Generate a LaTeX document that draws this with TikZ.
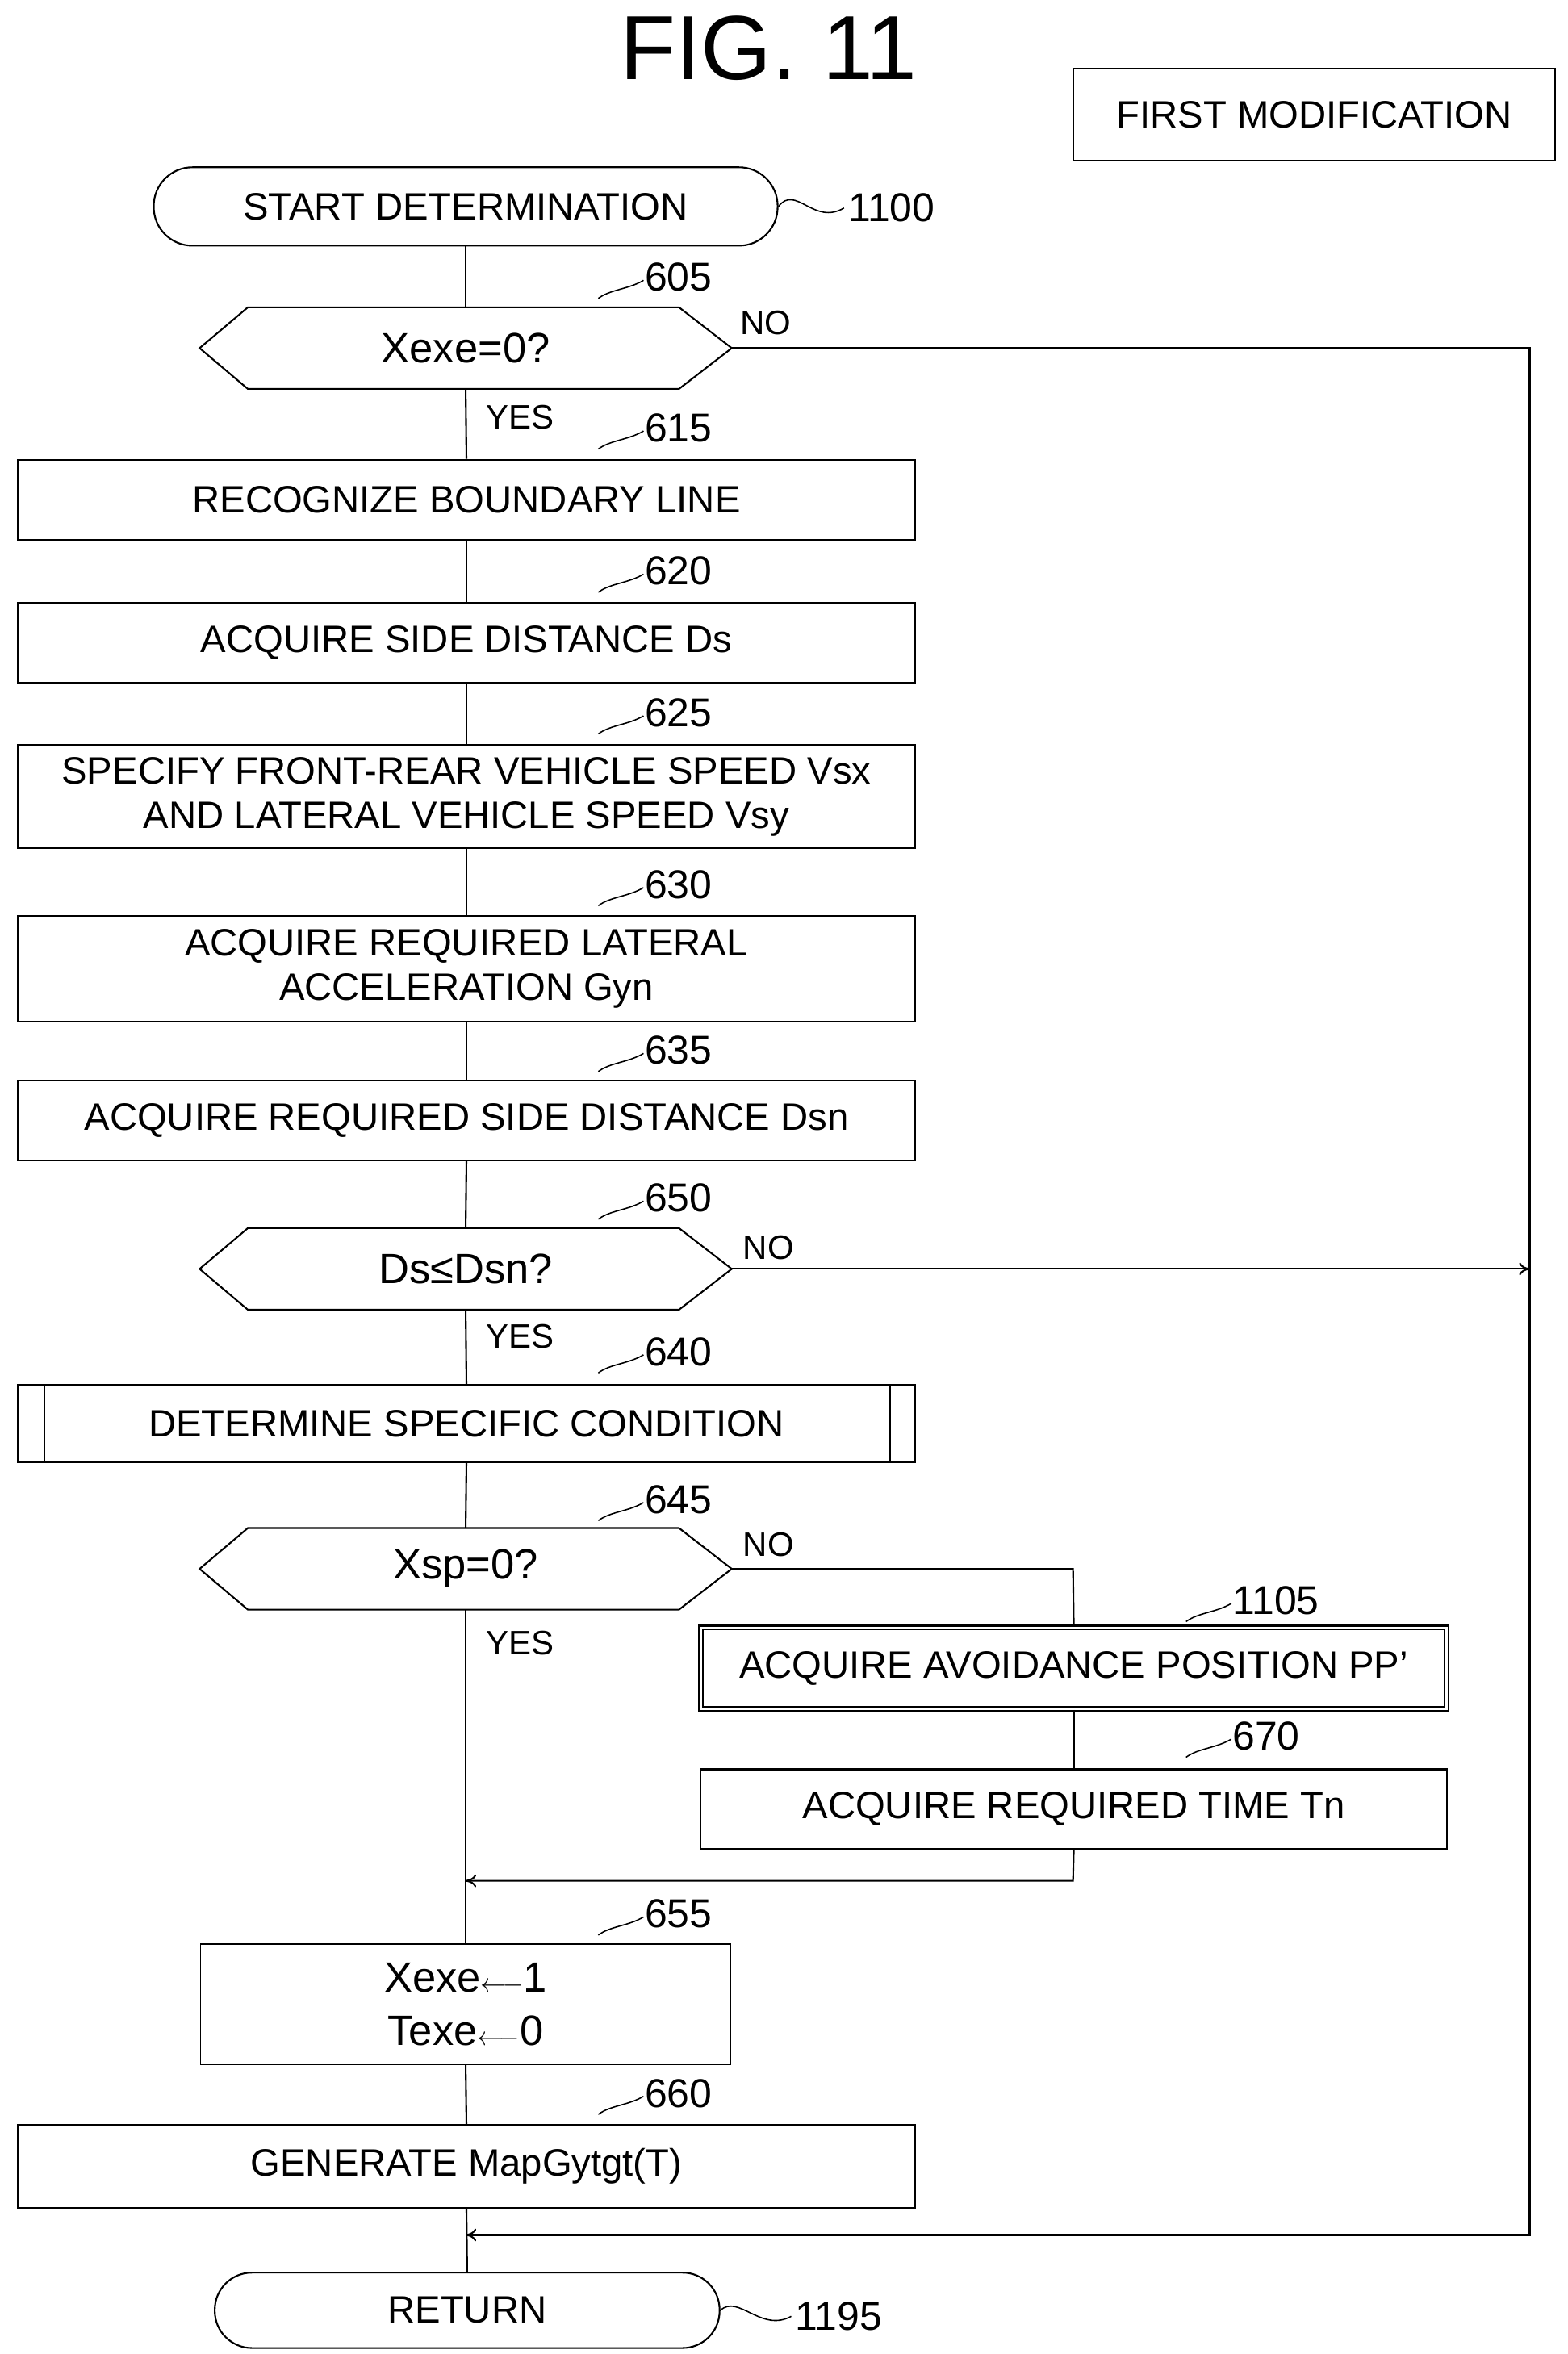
\documentclass[tikz,border=0pt]{standalone}
\usepackage{fontspec}
\setmainfont{Liberation Sans}
\usetikzlibrary{calc,arrows.meta}
\begin{document}
\begin{tikzpicture}[x=0.05cm,y=-0.05cm,line width=1.6pt,
  txt/.style={font=\fontsize{36}{42}\selectfont},
  box/.style={draw,txt,minimum width=29.75cm,minimum height=2.65cm,align=center,inner sep=0},
  term/.style={draw,txt,rounded corners=1.28cm,minimum height=2.6cm,inner sep=0},
  hex/.style={minimum width=17.6cm,minimum height=2.65cm,inner sep=0,font=\fontsize{40}{46}\selectfont},
  num/.style={font=\fontsize{38}{42}\selectfont},
  lab/.style={font=\fontsize{32}{38}\selectfont},
  arr/.style={-{To[length=10pt,width=12pt]}}]
\useasboundingbox (0,0) rectangle (1040,1562);
\newcommand{\hexa}[1]{\draw ($(#1.west)$) -- ($(#1.north west)+(1.6cm,0)$) -- ($(#1.north east)+(-1.75cm,0)$) -- (#1.east) -- ($(#1.south east)+(-1.75cm,0)$) -- ($(#1.south west)+(1.6cm,0)$) -- cycle;}
\newcommand{\tag}[3]{\node[num,anchor=west] (#1) at (#2) {#3};
  \draw[line width=1.2pt] ($(#1.west)+(-28,14)$) .. controls +(8,-6) and +(-10,6) .. ($(#1.west)+(2,2)$);}

\node[font=\fontsize{86}{96}\selectfont] (title) at (510,32) {FIG. 11};
\node[draw,txt,minimum width=16cm,minimum height=3.05cm,inner sep=0] (fm) at (872,76) {FIRST MODIFICATION};

\node[term,minimum width=20.7cm] (start) at (309,137) {START DETERMINATION};
\node[num,anchor=west] (n1100) at (560,138) {1100};
\draw[line width=1.2pt] (start.east) .. controls (528,122) and (540,150) .. (n1100.west);

\node[hex] (d605) at (309,231) {Xexe=0?}; \hexa{d605}
\tag{t605}{425,184}{605}
\node[box] (b615) at (309.5,331.5) {RECOGNIZE BOUNDARY LINE};
\tag{t615}{425,284}{615}
\node[box] (b620) at (309.5,426.5) {ACQUIRE SIDE DISTANCE Ds};
\tag{t620}{425,379}{620}
\node[box,minimum height=3.45cm] (b625) at (309.5,528.5) {SPECIFY FRONT-REAR VEHICLE SPEED Vsx\\AND LATERAL VEHICLE SPEED Vsy};
\tag{t625}{425,473}{625}
\node[box,minimum height=3.5cm] (b630) at (309.5,643) {ACQUIRE REQUIRED LATERAL\\ACCELERATION Gyn};
\tag{t630}{425,587}{630}
\node[box] (b635) at (309.5,743.5) {ACQUIRE REQUIRED SIDE DISTANCE Dsn};
\tag{t635}{425,697}{635}
\node[hex] (d650) at (309,842) {Ds≤Dsn?}; \hexa{d650}
\tag{t650}{425,795}{650}
\node[box,minimum height=2.55cm] (b640) at (309.5,944.5) {DETERMINE SPECIFIC CONDITION};
\draw ($(b640.north west)+(18,0)$) -- ($(b640.south west)+(18,0)$);
\draw ($(b640.north east)+(-17,0)$) -- ($(b640.south east)+(-17,0)$);
\tag{t640}{425,897}{640}
\node[hex] (d645) at (309,1041) {Xsp=0?}; \hexa{d645}
\tag{t645}{425,995}{645}
\node[box,minimum width=24.75cm,minimum height=2.7cm,double,double distance=2pt] (b1105) at (712.5,1107) {ACQUIRE AVOIDANCE POSITION PP'};
\tag{t1105}{815,1062}{1105}
\node[box,minimum width=24.75cm] (b670) at (712.5,1200.5) {ACQUIRE REQUIRED TIME Tn};
\tag{t670}{815,1152}{670}
\node[draw,font=\fontsize{40}{50}\selectfont,minimum width=17.6cm,minimum height=4cm,align=center,line width=1.1pt] (b655) at (309,1330) {Xexe$\longleftarrow$1\\Texe$\longleftarrow$0};
\tag{t655}{425,1270}{655}
\node[box,minimum height=2.75cm] (b660) at (309.5,1437.5) {GENERATE MapGytgt(T)};
\tag{t660}{425,1389}{660}
\node[term,minimum width=16.75cm,minimum height=2.5cm,rounded corners=1.23cm] (ret) at (310,1533) {RETURN};
\node[num,anchor=west] (n1195) at (525,1537) {1195};
\draw[line width=1.2pt] (ret.east) .. controls (490,1522) and (505,1548) .. (n1195.west);

\coordinate (r605) at (1015,231);
\coordinate (r650) at (1015,842);
\coordinate (rb) at (1015,1483);
\coordinate (m1) at (309,1483);
\coordinate (c645) at (712,1041);
\coordinate (c670) at (712,1248);
\coordinate (m2) at (309,1248);

\draw (start.south) -- (d605.north);
\draw (d605.south) -- (b615.north);
\draw (b615.south) -- (b620.north);
\draw (b620.south) -- (b625.north);
\draw (b625.south) -- (b630.north);
\draw (b630.south) -- (b635.north);
\draw (b635.south) -- (d650.north);
\draw (d650.south) -- (b640.north);
\draw (b640.south) -- (d645.north);
\draw (d645.south) -- (b655.north);
\draw (b655.south) -- (b660.north);
\draw (b660.south) -- (ret.north);
\draw[arr] (d605.east) -- (r605) -- (rb) -- (m1);
\draw[arr] (d650.east) -- (r650);
\draw (d645.east) -- (c645) -- (b1105.north);
\draw (b1105.south) -- (b670.north);
\draw[arr] (b670.south) -- (c670) -- (m2);

\node[lab] at (508,214) {NO};
\node[lab] at (510,828) {NO};
\node[lab] at (510,1025) {NO};
\node[lab] at (345,277) {YES};
\node[lab] at (345,887) {YES};
\node[lab] at (345,1090) {YES};
\end{tikzpicture}
\end{document}
